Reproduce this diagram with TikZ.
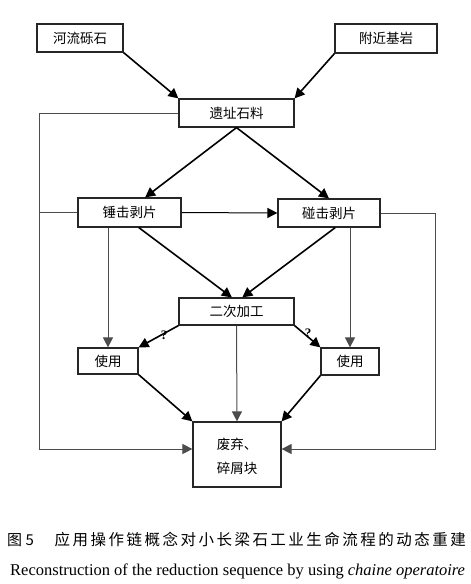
\documentclass[tikz,border=0pt]{standalone}
\usepackage{fontspec}
\setmainfont{Liberation Serif}
\newfontfamily\cjk{Noto Sans CJK SC}
\newfontfamily\cjkcap{Noto Sans CJK SC}[LetterSpace=16]
\usetikzlibrary{arrows.meta,calc}
\begin{document}
\begin{tikzpicture}[x=1pt,y=-1pt,
  box/.style={draw=black!85,line width=1.2pt,inner sep=0pt,font=\cjk\fontsize{13.5}{16}\selectfont,align=center},
  thick arrow/.style={line width=1.6pt,-{Triangle[length=10pt,width=10pt]}},
  thin arrow/.style={draw=black!70,line width=1pt,-{Triangle[length=10pt,width=10pt]}},
  thin line/.style={draw=black!70,line width=1pt},
  qmark/.style={font=\fontsize{13}{14}\selectfont\bfseries,inner sep=0pt}]
\useasboundingbox (0,0) rectangle (471,584);
% nodes
\node[box,minimum width=86pt,minimum height=28pt] (rs) at (80,38) {河流砾石};
\node[box,minimum width=102pt,minimum height=29pt] (bed) at (386,38.5) {附近基岩};
\node[box,minimum width=115pt,minimum height=28pt] (site) at (236.5,113) {遗址石料};
\node[box,minimum width=103pt,minimum height=29pt] (ham) at (129.5,212.5) {锤击剥片};
\node[box,minimum width=102pt,minimum height=28pt] (anv) at (329,213) {碰击剥片};
\node[box,minimum width=115pt,minimum height=27pt] (ret) at (236.5,311.5) {二次加工};
\node[box,minimum width=60pt,minimum height=26pt] (useL) at (108,361) {使用};
\node[box,minimum width=58pt,minimum height=27pt] (useR) at (350,361.5) {使用};
\node[box,minimum width=88pt,minimum height=65pt,text height=0pt] (waste) at (237,454.5) {};
\node[font=\cjk\fontsize{13.5}{16}\selectfont,inner sep=0pt] (w1) at (237,444) {废弃、};
\node[font=\cjk\fontsize{13.5}{16}\selectfont,inner sep=0pt] (w2) at (237,468) {碎屑块};
\coordinate (L) at (39,0);
\coordinate (R) at (435,0);
% top arrows
\draw[thick arrow] (rs.south east) -- (site.north west);
\draw[thick arrow] (bed.south west) -- (site.north east);
\draw[thick arrow] (site.south) -- ($(ham.north west)!0.65!(ham.north east)$);
\draw[thick arrow] (site.south) -- (anv.north);
\draw[draw=black,line width=1pt,-{Triangle[length=10pt,width=10pt]}] (ham.east) -- (anv.west);
\draw[thick arrow] ($(ham.south west)!0.59!(ham.south east)$) -- ($(ret.north west)!0.46!(ret.north east)$);
\draw[thick arrow] ($(anv.south west)!0.56!(anv.south east)$) -- ($(ret.north west)!0.55!(ret.north east)$);
\draw[thin arrow] (useL.north |- ham.south) -- (useL.north);
\draw[thin arrow] (useR.north |- anv.south) -- (useR.north);
% retouch
\draw[thick arrow] (ret.south west) -- (useL.north east);
\draw[thick arrow] (ret.south east) -- (useR.north west);
\node[qmark] (q1) at (164,335) {?};
\node[qmark] (q2) at (308,333) {?};
\draw[thin arrow] (ret.south) -- (waste.north);
\draw[thick arrow] (useL.south east) -- (waste.north west);
\draw[thick arrow] (useR.south west) -- (waste.north east);
% loops
\coordinate (WL) at ($(waste.west)+(0,-5.5)$);
\coordinate (WR) at ($(waste.east)+(0,-5.5)$);
\draw[thin arrow] (site.west) -- (site.west -| L) -- (WL -| L) -- (WL);
\draw[thin line] (ham.west) -- (ham.west -| L);
\draw[thin arrow] (anv.east) -- (anv.east -| R) -- (WR -| R) -- (WR);
% caption
\node[font=\cjk\fontsize{15}{17}\selectfont,anchor=west,inner sep=0pt] (fig) at (7,540) {图 5};
\node[font=\cjkcap\fontsize{15.5}{17}\selectfont,anchor=east,inner sep=0pt] (cap) at (466,540) {应用操作链概念对小长梁石工业生命流程的动态重建};
\node[font=\fontsize{16.5}{18}\selectfont,anchor=west,inner sep=0pt] (eng) at (10,571) {Reconstruction of the reduction sequence by using \textit{chaine operatoire}};
\end{tikzpicture}
\end{document}
